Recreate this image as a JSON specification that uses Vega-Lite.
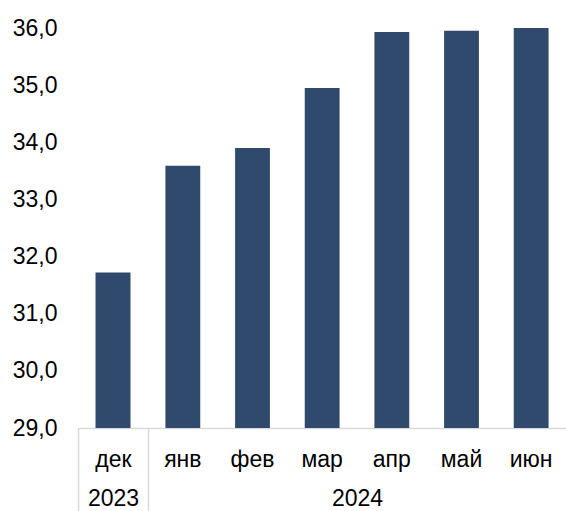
{
  "$schema": "https://vega.github.io/schema/vega-lite/v6.json",
  "padding": {"left": 0, "top": 17, "right": 0, "bottom": 0},
  "spacing": 0,
  "bounds": "flush",
  "background": "white",
  "datasets": {
    "rates": [
      {"month": "дек", "year": "2023", "ord": 1, "value": 31.72},
      {"month": "янв", "year": "2024", "ord": 2, "value": 33.59},
      {"month": "фев", "year": "2024", "ord": 3, "value": 33.9},
      {"month": "мар", "year": "2024", "ord": 4, "value": 34.95},
      {"month": "апр", "year": "2024", "ord": 5, "value": 35.93},
      {"month": "май", "year": "2024", "ord": 6, "value": 35.95},
      {"month": "июн", "year": "2024", "ord": 7, "value": 36.0}
    ]
  },
  "config": {
    "view": {"stroke": null},
    "font": "Liberation Sans",
    "axis": {
      "labelFont": "Liberation Sans",
      "titleFont": "Liberation Sans",
      "labelColor": "#000000",
      "titleColor": "#000000",
      "labelFontSize": 23,
      "titleFontSize": 23,
      "titleFontWeight": "normal",
      "grid": false
    }
  },
  "hconcat": [
    {
      "width": 70,
      "height": 400,
      "data": {"name": "rates"},
      "transform": [{"filter": "datum.year === '2023'"}],
      "mark": {"type": "bar", "color": "#2F4A6D", "clip": true, "width": {"band": 0.5}},
      "encoding": {
        "x": {
          "field": "month",
          "type": "nominal",
          "sort": {"field": "ord"},
          "scale": {"paddingInner": 0, "paddingOuter": 0},
          "title": "2023",
          "axis": {
            "labelAngle": 0,
            "labelPadding": -63,
            "ticks": true,
            "tickBand": "extent",
            "tickSize": 83,
            "tickColor": "#d9d9d9",
            "tickWidth": 1.5,
            "domainColor": "#d9d9d9",
            "domainWidth": 1.5,
            "titlePadding": -24
          }
        },
        "y": {
          "field": "value",
          "type": "quantitative",
          "scale": {"domain": [29, 36], "zero": false, "nice": false},
          "title": null,
          "axis": {
            "values": [29, 30, 31, 32, 33, 34, 35, 36],
            "labelExpr": "replace(format(datum.value, '.1f'), '.', ',')",
            "domain": false,
            "ticks": false,
            "tickSize": 0,
            "labelPadding": 21,
            "minExtent": 78,
            "maxExtent": 78
          }
        }
      }
    },
    {
      "width": 418,
      "height": 400,
      "data": {"name": "rates"},
      "transform": [{"filter": "datum.year === '2024'"}],
      "mark": {"type": "bar", "color": "#2F4A6D", "clip": true},
      "encoding": {
        "x": {
          "field": "month",
          "type": "nominal",
          "sort": {"field": "ord"},
          "scale": {"paddingInner": 0.5, "paddingOuter": 0.25},
          "title": "2024",
          "axis": {
            "labelAngle": 0,
            "labelPadding": 20,
            "ticks": false,
            "tickSize": 0,
            "domainColor": "#d9d9d9",
            "domainWidth": 1.5,
            "titlePadding": 16
          }
        },
        "y": {
          "field": "value",
          "type": "quantitative",
          "scale": {"domain": [29, 36], "zero": false, "nice": false},
          "axis": null
        }
      }
    }
  ]
}
